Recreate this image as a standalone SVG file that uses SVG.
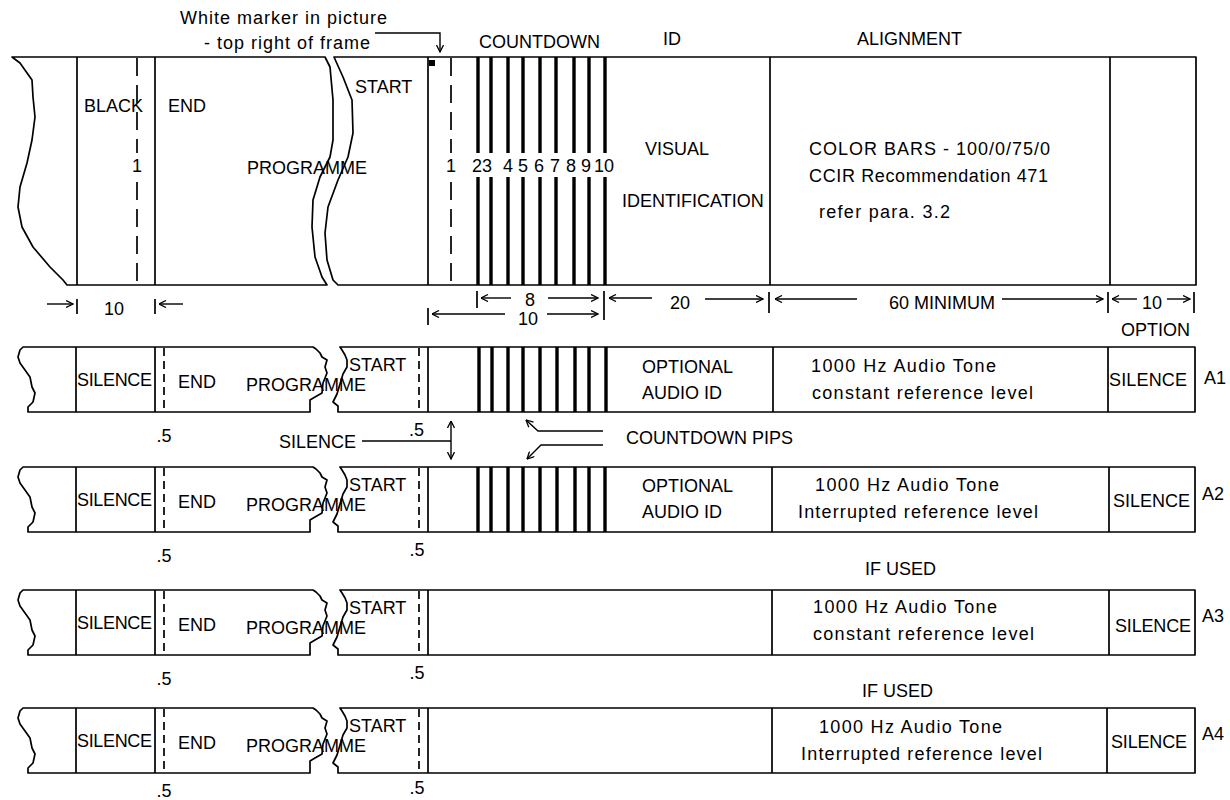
<svg xmlns="http://www.w3.org/2000/svg" width="1230" height="800" viewBox="0 0 1230 800">
<defs>
<style>
.ln{stroke:#000;stroke-width:1.7;fill:none}
.shape{stroke:#000;stroke-width:1.7;fill:#fff;stroke-linejoin:round}
.bar{stroke:#000;stroke-width:3.4}
.dsh{stroke:#000;stroke-width:1.7;stroke-dasharray:18 9}
.sd{stroke:#000;stroke-width:1.7;stroke-dasharray:8 5}
.ar{stroke:#000;stroke-width:1.4;fill:none}
text{font-family:"Liberation Sans",Arial,sans-serif;font-size:18px;fill:#000}
.m{text-anchor:middle}
</style>
<marker id="ah" viewBox="0 0 8 8" refX="7.5" refY="4" markerWidth="8" markerHeight="8" markerUnits="userSpaceOnUse" orient="auto-start-reverse">
<path d="M0.5,0.5 L7.5,4 L0.5,7.5" fill="none" stroke="#000" stroke-width="1.3"/>
</marker>
</defs>
<rect width="1230" height="800" fill="#fff"/>

<g id="video-frame">
<path class="shape" d="M12,57 L325,57 L330,67 L333,100 L333,140 L330,157 L320,177 L313,200 L312,227 L315,257 L322,277 L327,285 L67,285 L63,280 L50,267 L33,247 L22,227 L18,207 L20,187 L27,163 L32,140 L35,117 L33,97 L32,80 L20,63 Z"/>
<path class="shape" d="M334,57 L1196,57 L1196,285 L338,285 L333,280 L327,260 L325,233 L328,207 L338,180 L348,157 L353,133 L352,100 L343,77 Z"/>
<line class="ln" x1="77" y1="57" x2="77" y2="285"/>
<line class="ln" x1="155" y1="57" x2="155" y2="285"/>
<line class="ln" x1="428" y1="57" x2="428" y2="285"/>
<line class="ln" x1="770" y1="57" x2="770" y2="285"/>
<line class="ln" x1="1110" y1="57" x2="1110" y2="285"/>
<line class="dsh" x1="137" y1="58" x2="137" y2="153"/>
<line class="dsh" x1="137" y1="182" x2="137" y2="285"/>
<line class="dsh" x1="451" y1="58" x2="451" y2="153"/>
<line class="dsh" x1="451" y1="182" x2="451" y2="285"/>
<rect x="429" y="60" width="6" height="6" fill="#000"/>
<g id="countdown-bars">
<path class="bar" d="M478,57V153M478,177V285M491,57V153M491,177V285M508,57V153M508,177V285M523,57V153M523,177V285M540,57V153M540,177V285M556,57V153M556,177V285M574,57V153M574,177V285M589,57V153M589,177V285M605,57V153M605,177V285"/>
</g>
<text x="84" y="112">BLACK</text>
<text x="168" y="112">END</text>
<text class="m" x="137" y="172">1</text>
<text x="247" y="174">PROGRAMME</text>
<text x="355" y="93">START</text>
<text class="m" x="451" y="172">1</text>
<text class="m" x="477" y="172">2</text>
<text class="m" x="487" y="172">3</text>
<text class="m" x="508" y="172">4</text>
<text class="m" x="523" y="172">5</text>
<text class="m" x="539" y="172">6</text>
<text class="m" x="555" y="172">7</text>
<text class="m" x="571" y="172">8</text>
<text class="m" x="586" y="172">9</text>
<text class="m" x="604" y="172">10</text>
<text x="645" y="155">VISUAL</text>
<text x="622" y="207">IDENTIFICATION</text>
<text x="809" y="155" textLength="241" lengthAdjust="spacing">COLOR BARS - 100/0/75/0</text>
<text x="809" y="182" textLength="239" lengthAdjust="spacing">CCIR Recommendation 471</text>
<text x="819" y="218" textLength="131" lengthAdjust="spacing">refer para. 3.2</text>
</g>

<g id="headings">
<text x="180" y="24" textLength="207" lengthAdjust="spacing">White marker in picture</text>
<text x="204" y="49" textLength="166" lengthAdjust="spacing">- top right of frame</text>
<text x="479" y="48">COUNTDOWN</text>
<text x="663" y="45">ID</text>
<text x="857" y="45">ALIGNMENT</text>
</g>

<g id="connectors">
<path class="ar" d="M375,33 L440,33 L440,52" marker-end="url(#ah)"/>
<line class="ar" x1="47" y1="304" x2="73" y2="304" marker-end="url(#ah)"/>
<line class="ln" x1="77" y1="299" x2="77" y2="314"/>
<line class="ln" x1="155" y1="299" x2="155" y2="314"/>
<line class="ar" x1="183" y1="304" x2="159" y2="304" marker-end="url(#ah)"/>
<line class="ln" x1="477" y1="291" x2="477" y2="308"/>
<line class="ar" x1="511" y1="298" x2="481" y2="298" marker-end="url(#ah)"/>
<line class="ar" x1="548" y1="298" x2="598" y2="298" marker-end="url(#ah)"/>
<line class="ln" x1="604" y1="291" x2="604" y2="320"/>
<line class="ln" x1="428" y1="308" x2="428" y2="325"/>
<line class="ar" x1="505" y1="314" x2="432" y2="314" marker-end="url(#ah)"/>
<line class="ar" x1="547" y1="314" x2="598" y2="314" marker-end="url(#ah)"/>
<line class="ar" x1="652" y1="298" x2="609" y2="298" marker-end="url(#ah)"/>
<line class="ar" x1="705" y1="299" x2="763" y2="299" marker-end="url(#ah)"/>
<line class="ln" x1="769" y1="292" x2="769" y2="313"/>
<line class="ar" x1="857" y1="299" x2="775" y2="299" marker-end="url(#ah)"/>
<line class="ar" x1="1002" y1="299" x2="1103" y2="299" marker-end="url(#ah)"/>
<line class="ln" x1="1108" y1="292" x2="1108" y2="313"/>
<line class="ar" x1="1137" y1="299" x2="1112" y2="299" marker-end="url(#ah)"/>
<line class="ar" x1="1167" y1="299" x2="1190" y2="299" marker-end="url(#ah)"/>
<line class="ln" x1="1194" y1="292" x2="1194" y2="313"/>
<line class="ar" x1="362" y1="441" x2="451" y2="441"/>
<line class="ar" x1="451" y1="421" x2="451" y2="459" marker-start="url(#ah)" marker-end="url(#ah)"/>
<path class="ar" d="M603,431 L538,431 L526,420" marker-end="url(#ah)"/>
<path class="ar" d="M603,445 L541,445 L527,459" marker-end="url(#ah)"/>
</g>

<g id="dimension-labels">
<text x="104" y="315">10</text>
<text class="m" x="530" y="306">8</text>
<text class="m" x="528" y="325">10</text>
<text x="670" y="309">20</text>
<text x="889" y="309">60 MINIMUM</text>
<text x="1142" y="309">10</text>
<text x="1121" y="336">OPTION</text>
<text x="279" y="448">SILENCE</text>
<text x="409" y="436">.5</text>
<text x="626" y="444">COUNTDOWN PIPS</text>
</g>

<g id="row-a1" transform="translate(0,347)">
<path class="shape" d="M23,0 L313,0 L316,2 L320,6 L322,10 L327,13 L325,20 L327,26 L323,36 L322,46 L315,50 L310,53 L310,65 L28,65 L28,60 L33,55 L35,46 L32,40 L30,30 L25,23 L20,16 L18,10 L20,3 Z"/>
<path class="shape" d="M340,0 L1195,0 L1195,65 L338,65 L338,59 L333,55 L337,47 L340,37 L343,27 L347,20 L347,13 L345,8 L342,3 Z"/>
<path class="ln" d="M76,0V65M155,0V65M428,0V65M773,0V65M1108,0V65"/>
<path class="sd" d="M164,1V65M419,1V65"/>
<path class="bar" d="M479,0V65M492,0V65M508,0V65M523,0V65M540,0V65M557,0V65M575,0V65M589,0V65M606,0V65"/>
<text x="77" y="39" textLength="75" lengthAdjust="spacing">SILENCE</text>
<text x="178" y="41">END</text>
<text x="246" y="44">PROGRAMME</text>
<text x="349" y="24">START</text>
<text x="642" y="26">OPTIONAL</text>
<text x="642" y="52">AUDIO ID</text>
<text x="811" y="25" textLength="185" lengthAdjust="spacing">1000 Hz Audio Tone</text>
<text x="812" y="52" textLength="221" lengthAdjust="spacing">constant reference level</text>
<text x="1109" y="39" textLength="78" lengthAdjust="spacing">SILENCE</text>
<text x="1204" y="37">A1</text>
<text class="m" x="164" y="95">.5</text>
</g>

<g id="row-a2" transform="translate(0,467)">
<path class="shape" d="M23,0 L313,0 L316,2 L320,6 L322,10 L327,13 L325,20 L327,26 L323,36 L322,46 L315,50 L310,53 L310,65 L28,65 L28,60 L33,55 L35,46 L32,40 L30,30 L25,23 L20,16 L18,10 L20,3 Z"/>
<path class="shape" d="M340,0 L1195,0 L1195,65 L338,65 L338,59 L333,55 L337,47 L340,37 L343,27 L347,20 L347,13 L345,8 L342,3 Z"/>
<path class="ln" d="M76,0V65M155,0V65M428,0V65M772,0V65M1109,0V65"/>
<path class="sd" d="M164,1V65M419,1V65"/>
<path class="bar" d="M478,0V65M491,0V65M508,0V65M523,0V65M540,0V65M557,0V65M575,0V65M589,0V65M605,0V65"/>
<text x="77" y="39" textLength="75" lengthAdjust="spacing">SILENCE</text>
<text x="178" y="41">END</text>
<text x="246" y="44">PROGRAMME</text>
<text x="349" y="24">START</text>
<text x="642" y="25">OPTIONAL</text>
<text x="642" y="51">AUDIO ID</text>
<text x="815" y="24" textLength="184" lengthAdjust="spacing">1000 Hz Audio Tone</text>
<text x="798" y="51" textLength="240" lengthAdjust="spacing">Interrupted reference level</text>
<text x="1113" y="40" textLength="77" lengthAdjust="spacing">SILENCE</text>
<text x="1202" y="33">A2</text>
<text class="m" x="164" y="95">.5</text>
<text class="m" x="417" y="89">.5</text>
</g>

<g id="row-a3" transform="translate(0,590)">
<path class="shape" d="M23,0 L313,0 L316,2 L320,6 L322,10 L327,13 L325,20 L327,26 L323,36 L322,46 L315,50 L310,53 L310,65 L28,65 L28,60 L33,55 L35,46 L32,40 L30,30 L25,23 L20,16 L18,10 L20,3 Z"/>
<path class="shape" d="M340,0 L1195,0 L1195,65 L338,65 L338,59 L333,55 L337,47 L340,37 L343,27 L347,20 L347,13 L345,8 L342,3 Z"/>
<path class="ln" d="M76,0V65M155,0V65M428,0V65M772,0V65M1109,0V65"/>
<path class="sd" d="M164,1V65M419,1V65"/>
<text x="865" y="-15">IF USED</text>
<text x="77" y="39" textLength="75" lengthAdjust="spacing">SILENCE</text>
<text x="178" y="41">END</text>
<text x="246" y="44">PROGRAMME</text>
<text x="349" y="24">START</text>
<text x="813" y="23" textLength="184" lengthAdjust="spacing">1000 Hz Audio Tone</text>
<text x="813" y="50" textLength="221" lengthAdjust="spacing">constant reference level</text>
<text x="1115" y="42" textLength="76" lengthAdjust="spacing">SILENCE</text>
<text x="1202" y="32">A3</text>
<text class="m" x="164" y="95">.5</text>
<text class="m" x="417" y="89">.5</text>
</g>

<g id="row-a4" transform="translate(0,708)">
<path class="shape" d="M23,0 L313,0 L316,2 L320,6 L322,10 L327,13 L325,20 L327,26 L323,36 L322,46 L315,50 L310,53 L310,65 L28,65 L28,60 L33,55 L35,46 L32,40 L30,30 L25,23 L20,16 L18,10 L20,3 Z"/>
<path class="shape" d="M340,0 L1195,0 L1195,65 L338,65 L338,59 L333,55 L337,47 L340,37 L343,27 L347,20 L347,13 L345,8 L342,3 Z"/>
<path class="ln" d="M76,0V65M155,0V65M428,0V65M772,0V65M1107,0V65"/>
<path class="sd" d="M164,1V65M419,1V65"/>
<text x="862" y="-11">IF USED</text>
<text x="77" y="39" textLength="75" lengthAdjust="spacing">SILENCE</text>
<text x="178" y="41">END</text>
<text x="246" y="44">PROGRAMME</text>
<text x="349" y="24">START</text>
<text x="819" y="25" textLength="183" lengthAdjust="spacing">1000 Hz Audio Tone</text>
<text x="801" y="52" textLength="241" lengthAdjust="spacing">Interrupted reference level</text>
<text x="1111" y="40" textLength="76" lengthAdjust="spacing">SILENCE</text>
<text x="1202" y="32">A4</text>
<text class="m" x="164" y="89">.5</text>
<text class="m" x="417" y="86">.5</text>
</g>
</svg>
